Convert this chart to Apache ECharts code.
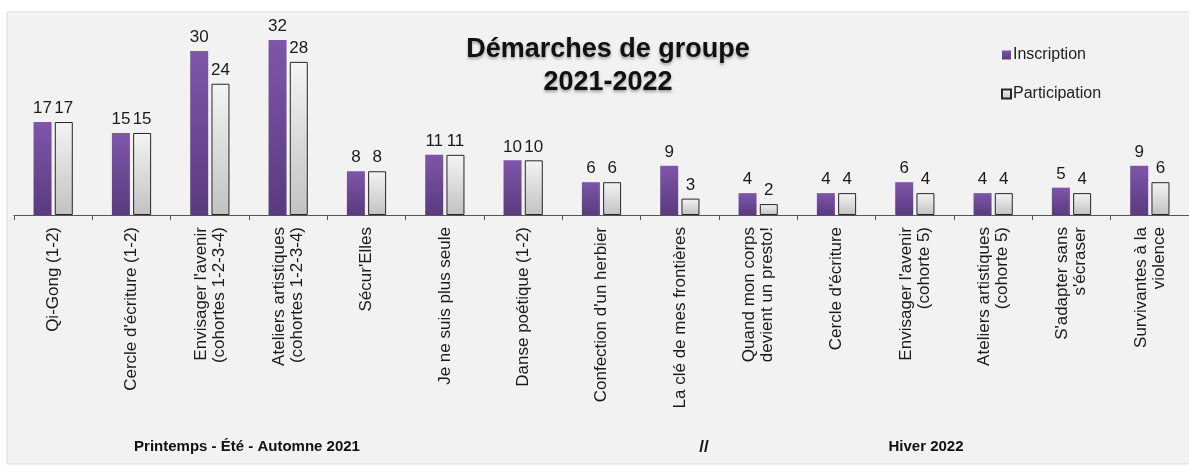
<!DOCTYPE html>
<html>
<head>
<meta charset="utf-8">
<script src="https://cdn.jsdelivr.net/npm/echarts@6/dist/echarts.min.js"></script>
<style>
  html, body { margin: 0; padding: 0; background: #fff; }
  #chart { width: 1189px; height: 466px; }
</style>
</head>
<body>
<div id="chart"></div>
<script>
const categories = [
  'Qi-Gong (1-2)',
  "Cercle d'écriture (1-2)",
  "Envisager l'avenir\n(cohortes 1-2-3-4)",
  'Ateliers artistiques\n(cohortes 1-2-3-4)',
  "Sécur'Elles",
  'Je ne suis plus seule',
  'Danse poétique (1-2)',
  "Confection d'un herbier",
  'La clé de mes frontières',
  'Quand mon corps\ndevient un presto!',
  "Cercle d'écriture",
  "Envisager l'avenir\n(cohorte 5)",
  'Ateliers artistiques\n(cohorte 5)',
  "S'adapter sans\ns'écraser",
  'Survivantes à la\nviolence'
];
const inscription = [17, 15, 30, 32, 8, 11, 10, 6, 9, 4, 4, 6, 4, 5, 9];
const participation = [17, 15, 24, 28, 8, 11, 10, 6, 3, 2, 4, 4, 4, 4, 6];

const font = '"Liberation Sans", Arial, sans-serif';
const narrow = '"Liberation Sans Narrow", "Arial Narrow", "Liberation Sans", sans-serif';
const myChart = echarts.init(document.getElementById('chart'));

const valueLabel = {
  show: true,
  position: 'top',
  distance: 5,
  fontFamily: font,
  fontSize: 17,
  color: '#1a1a1a'
};

const option = {
  backgroundColor: '#ffffff',
  animation: false,
  title: {
    text: 'Démarches de groupe\n2021-2022',
    left: 603,
    top: 28,
    textAlign: 'center',
    textStyle: {
      fontFamily: font,
      fontSize: 27,
      fontWeight: 'bold',
      lineHeight: 33,
      color: '#111',
      textShadowColor: 'rgba(0,0,0,0.35)',
      textShadowBlur: 3,
      textShadowOffsetY: 2
    }
  },
  legend: {
    orient: 'vertical',
    left: 996,
    top: 42,
    itemGap: 23,
    itemWidth: 9,
    itemHeight: 9,
    icon: 'rect',
    textStyle: { fontFamily: font, fontSize: 16, color: '#222', padding: [0, 0, 0, -3] },
    data: ['Inscription', 'Participation']
  },
  graphic: [
    {
      type: 'rect',
      z: -10,
      shape: { x: 7, y: 12, width: 1190, height: 452 },
      style: { fill: '#f2f2f2', stroke: '#dcdcdc', lineWidth: 1 }
    },
    {
      type: 'text', x: 247, y: 447,
      style: {
        text: 'Printemps - Été - Automne 2021', align: 'center', verticalAlign: 'middle',
        font: 'bold 15px ' + narrow, fill: '#111'
      }
    },
    {
      type: 'text', x: 704, y: 447,
      style: {
        text: '//', align: 'center', verticalAlign: 'middle',
        font: 'bold 17px ' + narrow, fill: '#111'
      }
    },
    {
      type: 'text', x: 926, y: 447,
      style: {
        text: 'Hiver 2022', align: 'center', verticalAlign: 'middle',
        font: 'bold 15px ' + narrow, fill: '#111'
      }
    }
  ],
  grid: { left: 14, top: 40, width: 1177, height: 175 },
  xAxis: {
    type: 'category',
    data: categories,
    boundaryGap: true,
    axisLine: { lineStyle: { color: '#555', width: 1 } },
    axisTick: { show: true, length: 5, lineStyle: { color: '#555' } },
    axisLabel: {
      rotate: 90,
      interval: 0,
      margin: 12,
      fontFamily: font,
      fontSize: 17,
      lineHeight: 18,
      color: '#1a1a1a'
    }
  },
  yAxis: {
    type: 'value',
    min: 0,
    max: 32,
    show: false,
    splitLine: { show: false }
  },
  series: [
    {
      name: 'Inscription',
      type: 'bar',
      data: inscription,
      barWidth: 18,
      barGap: '18%',
      itemStyle: {
        color: new echarts.graphic.LinearGradient(0, 0, 0, 1, [
          { offset: 0, color: '#7e56aa' },
          { offset: 1, color: '#5a3b7e' }
        ])
      },
      label: valueLabel
    },
    {
      name: 'Participation',
      type: 'bar',
      data: participation,
      barWidth: 18,
      itemStyle: {
        color: new echarts.graphic.LinearGradient(0, 0, 0, 1, [
          { offset: 0, color: '#f4f4f4' },
          { offset: 1, color: '#c2c2c2' }
        ]),
        borderColor: '#262626',
        borderWidth: 1
      },
      label: valueLabel
    }
  ]
};

myChart.setOption(option);
</script>
</body>
</html>
